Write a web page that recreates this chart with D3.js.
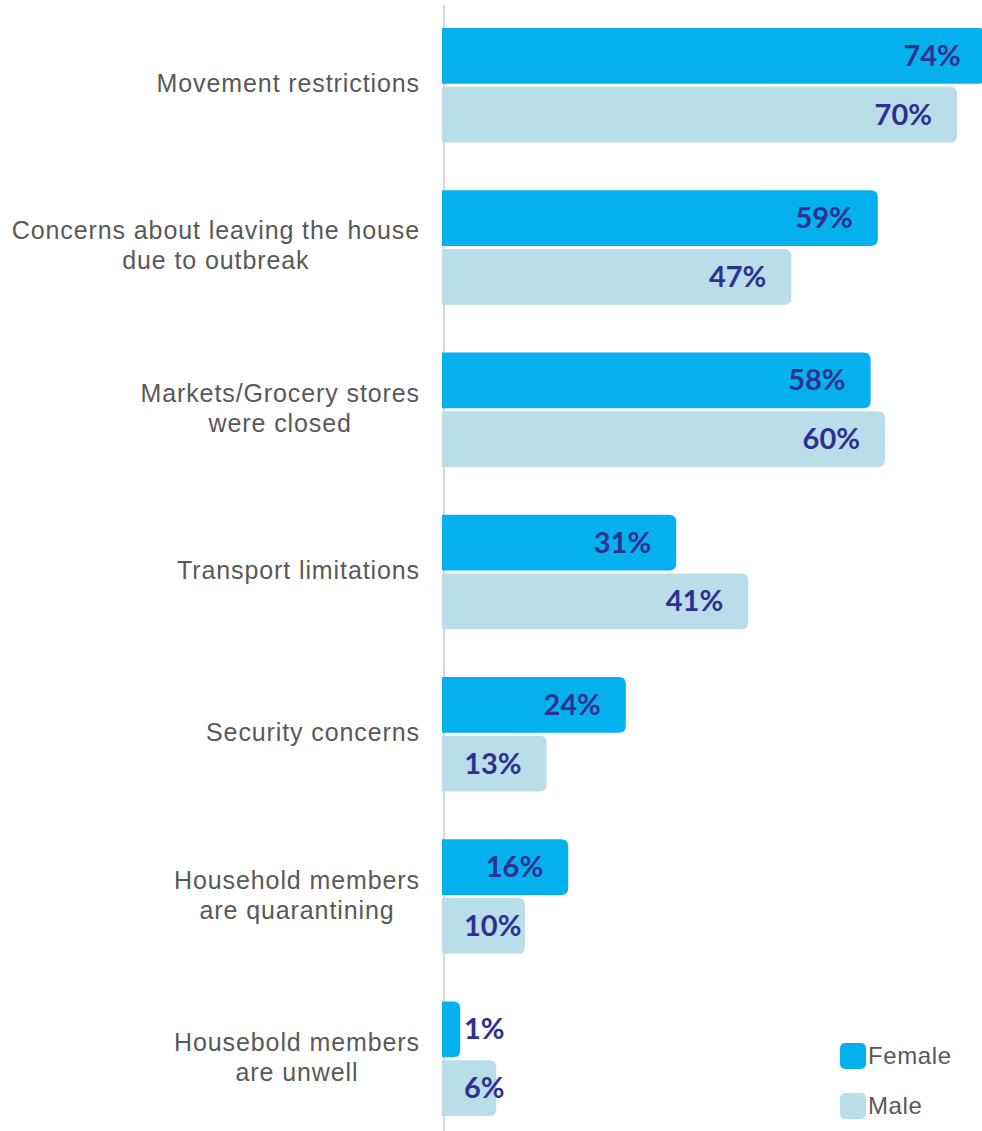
<!DOCTYPE html>
<html>
<head>
<meta charset="utf-8">
<script src="https://cdn.jsdelivr.net/npm/d3@7"></script>
<style>
  html, body { margin: 0; padding: 0; background: #ffffff; }
  svg { display: block; }
</style>
</head>
<body>
<svg id="chart" width="982" height="1131"></svg>
<script>
const categories = [
  ["Movement restrictions"],
  ["Concerns about leaving the house", "due to outbreak"],
  ["Markets/Grocery stores", "were closed"],
  ["Transport limitations"],
  ["Security concerns"],
  ["Household members", "are quarantining"],
  ["Housebold members", "are unwell"]
];
const seriesNames = ["Female", "Male"];
const femaleValues = [74, 59, 58, 31, 24, 16, 1];
const maleValues = [70, 47, 60, 41, 13, 10, 6];
const seriesColors = ["#05B0EF", "#B9DDE9"];

const W = 982, H = 1131;
const svg = d3.select("#chart");
const catKeys = categories.map(c => c.join(" "));
const data = catKeys.map((k, i) => ({ key: k, lines: categories[i], values: [femaleValues[i], maleValues[i]] }));

const baseX = 442;
const x = d3.scaleLinear().domain([0, 100]).range([453, 1173]);
const y0 = d3.scaleBand().domain(catKeys).range([28, 1116]).paddingInner(0.295).paddingOuter(0);
const y1 = d3.scaleBand().domain(seriesNames).range([0, y0.bandwidth()]).paddingInner(0.05);

function barPath(x0, x1, yTop, h, r) {
  const w = x1 - x0;
  r = Math.min(r, w, h / 2);
  return `M${x0},${yTop}H${x1 - r}Q${x1},${yTop} ${x1},${yTop + r}V${yTop + h - r}Q${x1},${yTop + h} ${x1 - r},${yTop + h}H${x0}Z`;
}

// axis line
svg.append("line")
  .attr("x1", 444).attr("x2", 444)
  .attr("y1", 5).attr("y2", H)
  .attr("stroke", "#d9d9d9").attr("stroke-width", 2);

const groups = svg.selectAll("g.cat").data(data).join("g")
  .attr("class", "cat")
  .attr("transform", d => `translate(0,${y0(d.key)})`);

groups.selectAll("path.bar")
  .data(d => d.values.map((v, j) => ({ v, s: seriesNames[j], j })))
  .join("path")
  .attr("class", "bar")
  .attr("d", d => barPath(baseX, x(d.v), y1(d.s), y1.bandwidth(), 7))
  .attr("fill", d => seriesColors[d.j]);

groups.selectAll("text.val")
  .data(d => d.values.map((v, j) => ({ v, s: seriesNames[j], j })))
  .join("text")
  .attr("class", "val")
  .attr("x", d => x(d.v) - 25)
  .attr("y", d => y1(d.s) + y1.bandwidth() / 2 + 10)
  .attr("text-anchor", "end")
  .attr("font-family", "Lato, 'Open Sans', sans-serif")
  .attr("font-weight", "bold")
  .attr("font-size", 29)
  .attr("fill", "#2E3192")
  .text(d => d.v + "%")
  .each(function(d) {
    const w = this.getComputedTextLength();
    const minStart = 464;
    if (x(d.v) - 25 - w < minStart) {
      d3.select(this).attr("text-anchor", "start").attr("x", minStart);
    }
  });

// category labels: block right-aligned, lines centered within block
groups.each(function(d) {
  const g = d3.select(this);
  const cy = y0.bandwidth() / 2;
  const lh = 30;
  const n = d.lines.length;
  const texts = d.lines.map((line, i) => g.append("text")
    .attr("font-family", "'Liberation Sans', Arial, sans-serif")
    .attr("font-size", 25)
    .attr("letter-spacing", 0.9)
    .attr("fill", "#595959")
    .attr("text-anchor", "middle")
    .attr("y", cy - (n - 1) * lh / 2 + i * lh + 7)
    .text(line));
  const maxW = d3.max(texts, t => t.node().getComputedTextLength());
  const center = 420 - maxW / 2;
  texts.forEach(t => t.attr("x", center));
});

// legend
const legend = svg.append("g");
const legendY = [1056, 1106];
seriesNames.forEach((s, i) => {
  legend.append("rect")
    .attr("x", 840).attr("y", legendY[i] - 13)
    .attr("width", 26).attr("height", 26)
    .attr("rx", 5)
    .attr("fill", seriesColors[i]);
  legend.append("text")
    .attr("x", 868).attr("y", legendY[i] + 8)
    .attr("font-family", "'Liberation Sans', Arial, sans-serif")
    .attr("font-size", 24)
    .attr("letter-spacing", 0.6)
    .attr("fill", "#595959")
    .text(s);
});
</script>
</body>
</html>
